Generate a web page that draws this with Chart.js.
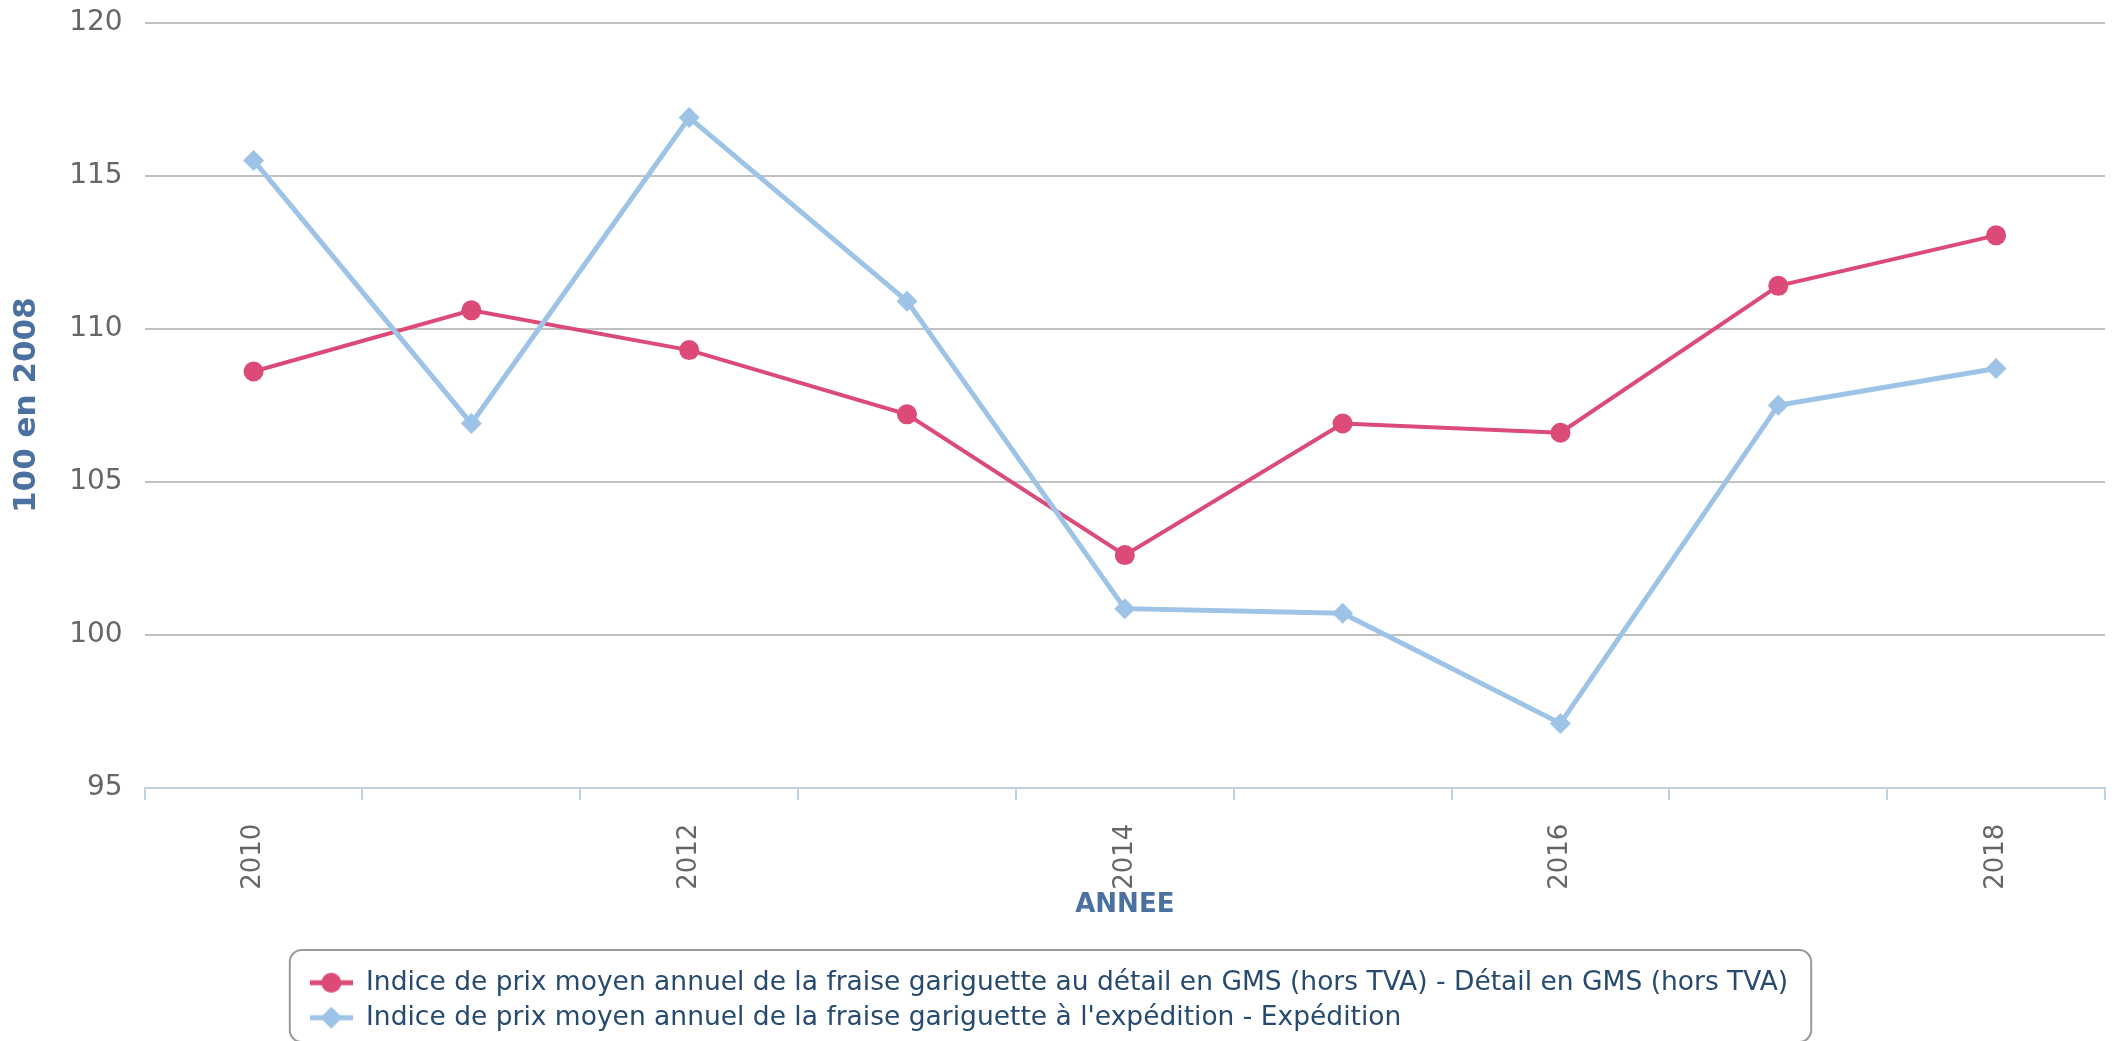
<!DOCTYPE html>
<html>
<head>
<meta charset="utf-8">
<script src="https://cdn.jsdelivr.net/npm/chart.js@4.4.1/dist/chart.umd.min.js"></script>
<style>
  html, body { margin: 0; padding: 0; background: #ffffff; }
  #wrap { width: 2125px; height: 1041px; }
</style>
</head>
<body>
<div id="wrap"><canvas id="myChartFraise"></canvas></div>
<script>
// annees
const annees = ["2010", "2011", "2012", "2013", "2014", "2015", "2016", "2017", "2018"];
// indice base 100 en 2008
const detailGMS = [108.6, 110.6, 109.3, 107.2, 102.6, 106.9, 106.6, 111.4, 113.05];
const expedition = [115.5, 106.9, 116.9, 110.9, 100.85, 100.7, 97.1, 107.5, 108.7];
const seriesLabels = [
    "Indice de prix moyen annuel de la fraise gariguette au détail en GMS (hors TVA) - Détail en GMS (hors TVA)",
    "Indice de prix moyen annuel de la fraise gariguette à l'expédition - Expédition",
];
const yTicks = [95, 100, 105, 110, 115, 120];

const rouge = "#dc4a78";
const bleu = "#9dc3e6";
const font = "'DejaVu Sans', Verdana, sans-serif";

// petit dessin ligne + marqueur pour la legende
const makeLegendMark = (color, shape) => {
    const c = document.createElement("canvas");
    c.width = 43;
    c.height = 24;
    const g = c.getContext("2d");
    g.strokeStyle = color;
    g.fillStyle = color;
    g.lineWidth = 5;
    g.beginPath();
    g.moveTo(0, 12);
    g.lineTo(43, 12);
    g.stroke();
    g.beginPath();
    if (shape === "circle") {
        g.arc(21.5, 12, 10, 0, Math.PI * 2);
    } else {
        g.moveTo(21.5, 1);
        g.lineTo(32.5, 12);
        g.lineTo(21.5, 23);
        g.lineTo(10.5, 12);
        g.closePath();
    }
    g.fill();
    return c;
};
const legendMarks = [makeLegendMark(rouge, "circle"), makeLegendMark(bleu, "diamond")];

// cadre arrondi autour de la legende
const legendFrame = {
    id: "legendFrame",
    afterUpdate(chart) {
        const lg = chart.legend;
        if (!lg || !lg.lineWidths) return;
        const pad = lg.options.labels.padding;
        const w = Math.max(...lg.lineWidths) - pad + 43;
        const boxLeft = (chart.width - w) / 2 - 12;
        lg._frame = { x: boxLeft, w: w };
        lg.left = boxLeft + 20 - pad;
        lg.right = boxLeft + w;
        lg.adjustHitBoxes();
    },
    afterDraw(chart) {
        const lg = chart.legend;
        if (!lg || !lg._frame) return;
        const ctx = chart.ctx;
        const { x, w } = lg._frame;
        const y = lg.top - 11;
        const h = chart.height - y + 1;
        ctx.save();
        ctx.strokeStyle = "#999999";
        ctx.lineWidth = 2;
        ctx.beginPath();
        ctx.roundRect(x, y, w, h, 12);
        ctx.stroke();
        ctx.restore();
    },
};

let ctx = document.getElementById("myChartFraise");
let myChartFraise = new Chart(ctx, {
    type: "line",
    data: {
        labels: annees,
        datasets: [
            {
                label: seriesLabels[0],
                data: detailGMS,
                borderColor: rouge,
                backgroundColor: rouge,
                borderWidth: 4,
                pointStyle: "circle",
                pointRadius: 10,
                pointBorderWidth: 0,
                tension: 0,
                order: 1,
            },
            {
                label: seriesLabels[1],
                data: expedition,
                borderColor: bleu,
                backgroundColor: bleu,
                borderWidth: 5,
                pointStyle: "rectRot",
                pointRadius: 10.5,
                pointBorderWidth: 0,
                tension: 0,
                order: 0,
            },
        ],
    },
    options: {
        responsive: true,
        maintainAspectRatio: false,
        animation: false,
        layout: { padding: { top: 0, right: 20, left: 0, bottom: 0 } },
        plugins: {
            tooltip: { enabled: false },
            legend: {
                position: "bottom",
                align: "start",
                labels: {
                    usePointStyle: true,
                    pointStyleWidth: 43,
                    padding: 8.5,
                    color: "#274b6f",
                    font: { family: font, size: 26.5 },
                    generateLabels: () =>
                        seriesLabels.map((txt, i) => ({
                            text: txt,
                            datasetIndex: i,
                            pointStyle: legendMarks[i],
                            fillStyle: i === 0 ? rouge : bleu,
                            strokeStyle: i === 0 ? rouge : bleu,
                            fontColor: "#274b6f",
                            lineWidth: 0,
                            hidden: false,
                        })),
                },
            },
        },
        scales: {
            x: {
                offset: true,
                grid: {
                    offset: true,
                    drawOnChartArea: false,
                    drawTicks: true,
                    tickLength: 12,
                    color: "#c0d0e3",
                    lineWidth: 2,
                },
                border: { display: true, color: "#c0d0e3", width: 2 },
                ticks: {
                    autoSkip: false,
                    minRotation: 90,
                    maxRotation: 90,
                    padding: 24,
                    color: "#666666",
                    font: { family: font, size: 26 },
                    callback: function (value, index) {
                        return index % 2 === 0 ? this.getLabelForValue(value) : "";
                    },
                },
                title: {
                    display: true,
                    text: "ANNEE",
                    color: "#4a71a0",
                    font: { family: font, size: 26, weight: "bold" },
                    padding: { top: -24, bottom: 40 },
                },
            },
            y: {
                min: yTicks[0],
                max: yTicks[yTicks.length - 1],
                afterBuildTicks: (axis) => {
                    axis.ticks = yTicks.map((v) => ({ value: v }));
                },
                grid: { color: "#c0c0c0", lineWidth: 2, drawTicks: false },
                border: { display: false },
                ticks: {
                    padding: 22,
                    color: "#666666",
                    font: { family: font, size: 28, lineHeight: 0.05 },
                },
                title: {
                    display: true,
                    text: "100 en 2008",
                    color: "#4a71a0",
                    font: { family: font, size: 31, weight: "bold" },
                    padding: { top: 8, bottom: 2 },
                },
            },
        },
    },
    plugins: [legendFrame],
});
</script>
</body>
</html>
